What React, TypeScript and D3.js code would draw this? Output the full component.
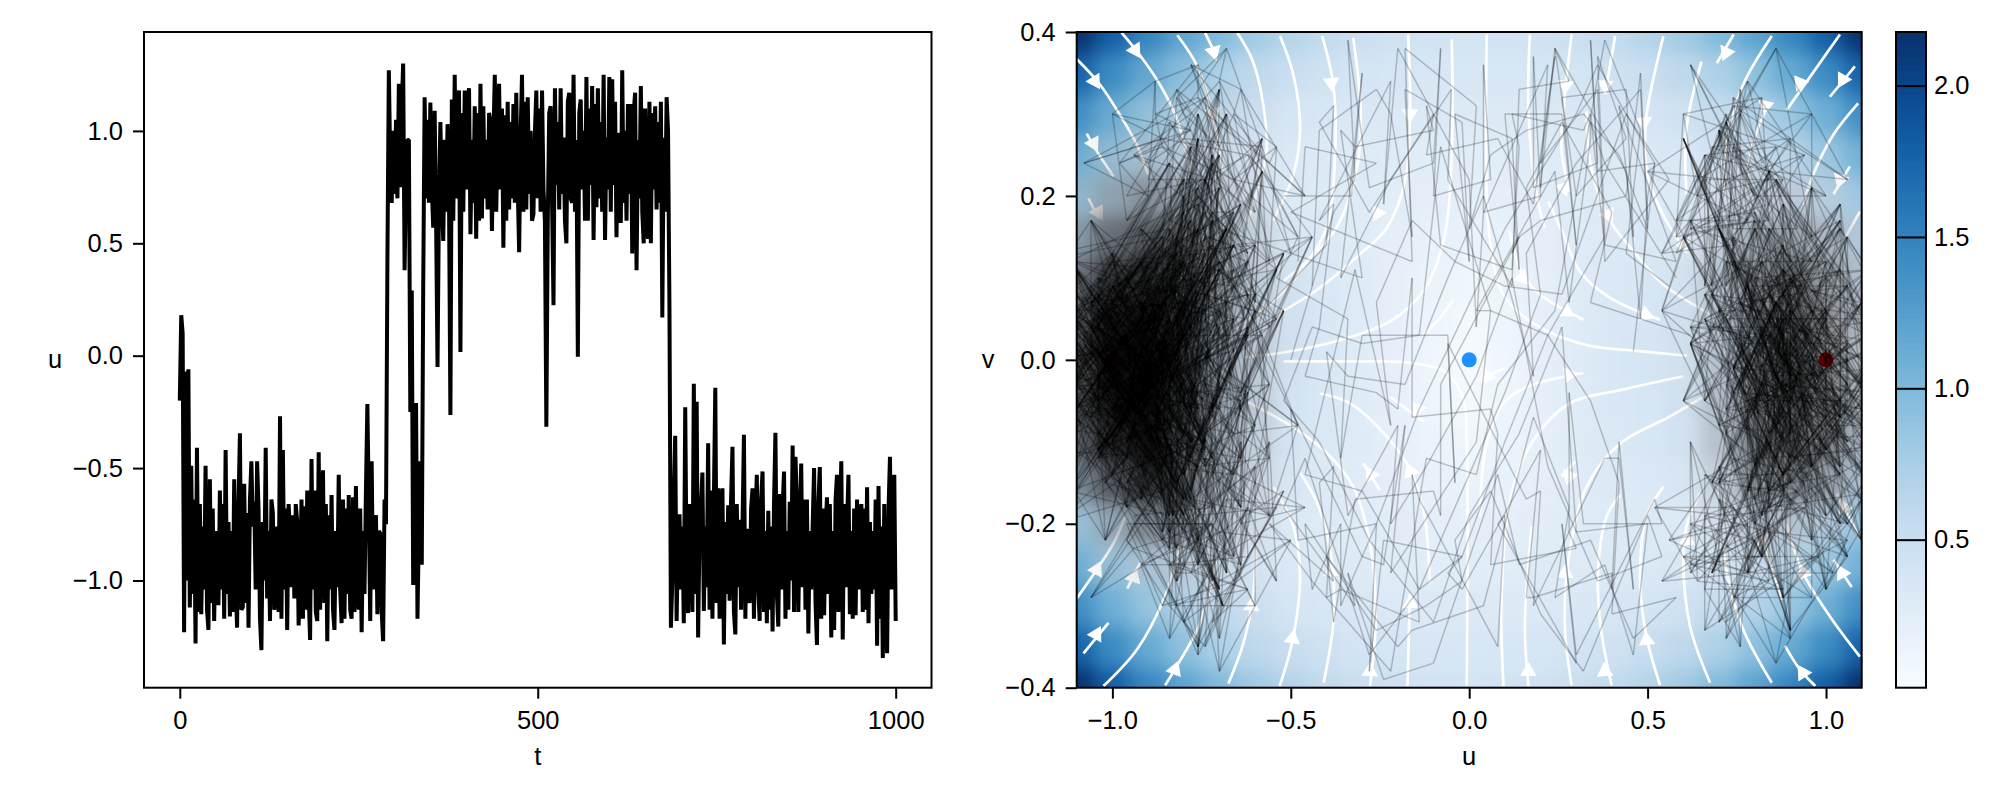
import React, { useRef, useEffect } from 'react';
import * as d3 from 'd3';

// u(t), one value every 2 time steps, one row per 50 steps
const uSeries = [
  -.2,.18,.10,-1.23,-.07,-1.0,-.06,-1.12,-.49,-1.06,-.64,-1.28,-.41,-1.14,-.66,-1.15,-.76,-1.04,-.49,-1.13,-1.22,-.55,-1.1,-.68,-1.18,
  -.78,-1.03,-1.11,-.60,-1.04,-.66,-1.17,-.42,-1.06,-.74,-1.16,-.78,-1.14,-.55,-1.0,-1.21,-.66,-.345,-1.13,-1.12,-.57,-1.1,-.7,-1.21,-.64,
  -.47,-.76,-.65,-1.04,-.47,-.68,-1.17,-1.31,-.74,-1.0,-.41,-1.08,-.78,-1.18,-.64,-.7,-1.13,-1.06,-.76,-1.14,-.27,-1.17,-.42,-1.04,-.68,
  -1.22,-.66,-.78,-1.03,-.71,-1.08,-.66,-.74,-1.2,-1.0,-.64,-1.17,-.67,-1.13,-.6,-1.06,-1.265,-.46,-1.04,-.6,-1.14,-1.18,-.43,-1.13,-.76,
  -.51,-1.1,-.66,-1.27,-.71,-1.04,-.62,-1.13,-1.22,-.78,-1.03,-.53,-1.04,-1.19,-.64,-1.17,-.68,-1.06,-.62,-1.13,-1.17,-.63,-1.14,-.58,-1.04,
  -1.13,-.68,-1.23,-.78,-1.06,-.6,-.215,-.66,-1.18,-.47,-1.04,-.74,-.71,-1.15,-.78,-.79,-1.14,-1.27,-.64,-.75,.42,1.27,.85,.68,1.0,
  .72,1.05,.7,1.21,.75,1.1,1.30,.38,.8,.96,.96,-.25,.29,-1.02,-.7,-.21,-1.17,-.75,-.47,-.93,.3,1.15,.7,1.05,.68,
  1.126,.74,.57,1.09,.6,-.05,.68,1.04,.7,.51,.96,.64,1.03,.72,-.264,1.14,.6,1.25,.7,1.0,1.18,.017,1.08,.64,1.18,
  .74,1.12,1.19,.54,.96,.68,1.11,.52,1.08,.6,1.21,.61,1.11,.7,.96,.65,1.08,1.04,.555,.96,1.25,.64,.99,1.21,.74,
  1.1,.48,1.07,.6,1.13,.65,1.04,.7,1.12,.68,1.17,.76,.46,.97,1.25,.64,1.13,.65,1.15,.72,1.0,.6,.63,.99,1.18,
  .7,1.1,.64,1.18,.74,.6,-.316,.6,1.08,1.11,.68,.225,1.19,.76,1.04,.65,1.19,.72,.97,.6,.5,1.13,1.17,.7,.68,
  1.25,.64,.96,-.005,1.08,1.14,.74,1.0,.6,1.24,.6,1.1,.76,1.2,.515,1.12,.66,1.19,.7,1.04,.64,1.25,.515,.97,.74,
  1.24,.64,1.23,.76,1.13,.527,.96,.99,.59,1.27,.68,1.0,.6,1.12,.72,1.12,.455,1.08,1.17,.38,.96,.7,1.2,.64,.5,
  1.1,.6,.52,1.13,.5,1.08,.74,1.11,.65,1.04,.68,1.13,.17,.97,.64,1.15,1.0,.2,-1.21,-1.0,-.64,-.356,-1.18,-.78,-.706,
  -1.04,-.76,-1.19,-.229,-1.0,-1.145,-.66,-.70,-1.14,-.125,-1.06,-.205,-1.254,-.78,-.665,-.52,-1.136,-.76,-1.03,-.39,-1.13,-.6,-1.17,-.64,-.143,
  -1.1,-.59,-1.17,-.68,-.59,-1.285,-.74,-1.06,-.665,-1.09,-.64,-.405,-1.14,-1.24,-.66,-1.03,-.73,-1.13,-.76,-.352,-1.17,-.77,-1.06,-1.10,-.68,
  -.59,-1.17,-.74,-.53,-1.04,-1.18,-.64,-.515,-1.14,-.78,-1.19,-.69,-1.13,-.76,-1.227,-.66,-.343,-1.06,-1.205,-.615,-1.04,-.68,-.515,-1.17,-.78,
  -1.13,-.65,-1.0,-.40,-1.14,-.45,-.66,-1.14,-.74,-.48,-1.03,-.64,-1.13,-.64,-1.236,-.78,-1.04,-.76,-.50,-1.1,-1.287,-.66,-.495,-1.17,-.68,
  -1.155,-.78,-.63,-1.06,-.66,-1.254,-.78,-1.22,-.64,-.53,-1.14,-.74,-.47,-1.263,-.66,-1.03,-.76,-.53,-1.15,-.78,-1.17,-.68,-1.155,-.64,-1.04,
  -.76,-.66,-1.14,-.68,-1.13,-.585,-1.19,-.74,-1.06,-.78,-1.04,-.64,-1.29,-.58,-1.17,-.76,-1.345,-.66,-1.13,-1.324,-.68,-.45,-1.04,-.78,-.53,
  -1.18,
];

// trajectory in the (u, v) plane: thirteen rows in the left well, then the right well
const planeU = [
  -.92,-.82,-1.0,-.86,-1.06,-.92,-.8,-.88,-.76,-.84,-1.04,-1.17,-1.02,-.87,-.78,-.7,-.8,-.96,-.84,-.74,-.83,-.98,-1.12,-.92,-.82,
  -.72,-.63,-.74,-.66,-.78,-.88,-.8,-.92,-1.1,-.96,-.82,-.73,-.85,-1.02,-1.18,-1.04,-.84,-.76,-.66,-.58,-.68,-.8,-.72,-.84,-1.0,
  -1.16,-1.0,-.86,-.76,-.88,-1.06,-1.2,-1.06,-.92,-.78,-.7,-.6,-.72,-.82,-.96,-.84,-.74,-.64,-.54,-.66,-.76,-.68,-.8,-.92,-1.1,
  -.96,-1.12,-1.0,-.84,-.74,-.86,-.78,-.92,-.82,-.72,-.62,-.74,-.86,-1.04,-.88,-.8,-.7,-.82,-.96,-1.14,-1.02,-.85,-.76,-.88,-.78,
  -.68,-.78,-.7,-.8,-.96,-1.12,-.96,-1.16,-1.0,-.84,-.76,-.66,-.56,-.68,-.6,-.72,-.82,-.74,-.86,-.76,-.7,-.8,-.92,-.82,-1.0,
  -1.17,-1.02,-.87,-.77,-.69,-.79,-.89,-1.08,-.89,-1.08,-1.2,-1.06,-.86,-1.04,-.86,-.74,-.64,-.52,-.62,-.72,-.64,-.76,-.86,-1.04,-1.18,
  -1.04,-.88,-.78,-.68,-.8,-.92,-.82,-.74,-.84,-1.0,-1.16,-1.04,-.86,-1.06,-.88,-.78,-.66,-.56,-.48,-.58,-.7,-.82,-1.0,-.84,-.74,
  -.86,-.76,-.66,-.78,-.88,-1.1,-.92,-1.12,-.96,-.8,-.7,-.82,-.72,-.62,-.74,-.64,-.76,-.88,-1.06,-1.2,-1.06,-.92,-.8,-.7,-.82,
  -1.0,-.84,-1.04,-.86,-.76,-.64,-.74,-.86,-1.06,-.92,-.78,-.88,-.8,-.96,-1.12,-1.0,-.84,-.74,-.84,-1.04,-1.18,-1.04,-.86,-.76,-.66,
  -.78,-.92,-1.1,-.92,-.82,-.72,-.82,-1.0,-.84,-.74,-.64,-.54,-.44,-.56,-.66,-.58,-.7,-.82,-.96,-.84,-1.04,-.86,-.78,-.88,-1.1,
  -.92,-.8,-.96,-.84,-1.0,-1.16,-1.0,-.84,-.74,-.86,-.76,-.88,-.78,-.68,-.8,-.7,-.6,-.7,-.82,-.72,-.84,-.76,-.66,-.78,-.92,
  -1.1,-1.22,-1.1,-.88,-.78,-.92,-.8,-.96,-.82,-.72,-.62,-.52,-.62,-.74,-.64,-.76,-.88,-.78,-.92,-1.12,-.96,-.82,-.7,-.8,-.96,
  -.82,-1.0,-.86,-.76,-.66,-.56,-.68,-.78,-.68,-.6,-.72,-.84,-1.04,-.88,-1.06,-.92,-.8,-.92,-1.12,-1.0,-.84,-1.04,-.86,-1.04,-1.18,
  .72,.82,.96,1.12,1.0,.84,.74,.86,1.04,.88,1.06,.9,.8,.7,.82,.96,1.1,.9,.8,.7,.6,.7,.82,.96,.84,
  1.0,.86,.76,.88,1.06,1.18,1.04,.88,.78,.68,.8,.7,.6,.72,.84,1.0,.86,1.04,.88,.78,.68,.8,.9,1.1,.9,
  .8,.96,1.12,1.0,.84,.74,.86,.76,.88,1.06,.9,.8,.72,.62,.74,.84,1.04,1.18,1.04,.86,.78,.9,1.1,.9,.82,
  .96,1.12,.9,.8,.72,.62,.54,.66,.76,.88,.78,.9,1.1,1.22,1.06,.88,.8,.9,.82,.72,.62,.74,.86,1.04,1.18,
  1.04,.86,1.0,1.16,1.0,.86,.76,.88,.8,.7,.6,.7,.82,.96,1.12,.96,.82,.96,.84,1.0,1.16,1.04,.84,.74,.86,
  1.04,.86,.76,.66,.78,.9,1.1,1.2,1.06,.9,.8,.9,.82,.7,.62,.72,.84,1.0,1.16,1.0,.84,.76,.66,.78,.88,
  1.06,1.2,1.06,.88,.78,.88,.78,.68,.8,.96,.84,1.0,1.16,1.04,.86,.76,.86,1.06,.88,.78,.88,1.06,.9,1.1,.9,
  1.04,
];
const planeV = [
  .0,-.04,.06,.02,-.07,.05,.12,.03,-.06,.08,-.02,-.13,-.03,.09,.17,.06,-.05,.1,-.01,-.11,-.19,-.08,.04,-.04,.07,
  .14,.05,.22,.11,-.02,.08,-.09,-.17,-.06,.03,.13,.01,-.12,-.22,-.11,-.02,.1,.2,.09,.27,.16,.04,-.07,.02,-.1,
  -.2,-.09,-.16,-.04,.06,-.05,.08,.17,.07,-.03,.04,-.08,-.18,-.27,-.15,-.05,.05,-.06,.11,.01,.19,.3,.18,.08,-.02,
  -.12,-.03,-.14,-.23,-.1,.0,.1,.02,.15,.24,.12,.03,-.08,.01,-.09,-.19,-.28,-.16,-.07,.04,-.04,.07,.16,.05,-.06,
  .03,.13,.25,.14,.05,-.04,.08,-.01,-.11,-.21,-.13,-.24,-.12,-.03,.06,-.06,.09,.18,.09,.21,.33,.2,.1,-.01,.07,
  -.05,-.15,-.07,-.18,-.3,-.17,-.08,.02,-.09,.03,.12,.04,.15,.06,-.03,-.13,-.05,.06,-.04,-.14,-.25,-.35,-.22,-.11,-.02,
  .08,-.03,.06,.16,.07,-.05,.04,.13,.24,.12,.02,.09,-.02,.06,-.07,-.17,-.09,-.19,-.08,.03,.12,.03,-.06,.04,.15,
  .05,.27,.14,.03,-.07,.04,-.05,.06,-.04,-.14,-.06,.05,.17,.08,-.03,-.12,-.22,-.1,.01,-.08,.03,.12,.22,.11,.01,
  .09,-.01,-.11,-.03,.08,.19,.09,-.02,.07,.16,.26,.14,.03,-.06,-.16,-.07,-.19,-.1,.02,-.09,.0,.1,.02,-.08,.05,
  -.04,.07,-.03,-.13,-.23,-.12,-.02,.09,-.02,.08,-.04,.05,.15,.04,.14,.23,.11,.01,-.1,-.02,-.12,-.21,-.1,.0,.11,
  .01,-.09,-.18,-.08,.03,.13,.04,.16,.06,-.05,.05,-.07,-.16,-.26,-.14,-.03,.08,-.02,.07,.18,.09,.3,.18,.07,-.03,
  .06,-.04,.08,-.02,-.12,-.04,.07,-.05,-.15,-.06,.04,.13,.03,-.08,-.18,-.09,.02,-.1,.0,.12,.02,.11,.21,.1,-.01,
  -.11,-.02,-.13,-.25,-.14,-.03,.07,-.04,.05,.14,.25,.13,.04,-.06,.04,-.07,-.17,-.07,.03,.13,.05,-.05,-.14,-.05,.06,
  -.03,-.12,-.22,-.11,-.02,.08,-.01,.1,.19,.08,-.03,.05,-.06,-.15,-.24,-.13,-.03,.06,.16,.06,-.05,.04,.12,.02,-.09,
  -.19,-.08,.02,.11,.02,-.09,-.2,-.1,-.01,.08,.17,.28,.15,.05,-.05,.05,-.04,-.14,-.06,-.16,-.26,-.13,-.03,.07,-.02,
  .1,.21,.11,.0,.09,-.01,-.12,-.03,-.14,-.24,-.33,-.2,-.09,.02,.12,.03,-.07,.05,.16,.07,-.04,-.15,-.06,.06,-.03,
  -.13,-.04,.08,.18,.29,.17,.06,-.05,.03,.14,.03,-.08,-.17,-.08,-.2,-.29,-.17,-.07,.03,-.06,.04,.15,.04,-.07,.02,
  .11,.22,.1,-.01,-.11,-.02,.07,-.04,.06,.16,.27,.16,.05,-.06,-.15,-.05,.04,-.07,-.18,-.28,-.16,-.05,.05,-.04,.07,
  .17,.07,-.03,.08,-.02,-.12,-.22,-.1,.0,.1,.01,-.09,-.19,-.08,.02,.12,.23,.12,.02,-.07,-.16,-.06,.05,-.05,-.14,
  -.05,.05,.15,.05,-.06,-.16,-.26,-.15,-.05,.06,.16,.06,-.04,-.13,-.03,.07,-.02,.09,.19,.09,.0,-.1,.02,-.08,.03,
  -.06,
];

// outer fringes of the two clouds
const fringeLeftTopU = [-.9,-.8,-.72,-.82,-.7,-.6,-.68,-.78,-.66,-.56,-.64,-.54,-.46,-.56,-.66,-.76,-.86,-.76,-.88,-.98,-.88,-.78,-.9,-1.0,-1.08,-.96,-.86,-.74,-.62,-.7,-.58,-.5,-.6,-.48,-.58,-.7,-.8,-.68,-.78,-.9,-.82,-.94,-.84,-.72,-.62,-.72,-.84,-.74,-.86,-.96];
const fringeLeftTopV = [.22,.3,.22,.33,.26,.18,.28,.36,.3,.24,.33,.26,.2,.12,.22,.32,.26,.36,.3,.24,.34,.28,.2,.3,.24,.17,.27,.32,.25,.16,.23,.13,.07,.15,.26,.34,.27,.38,.3,.24,.32,.25,.17,.22,.13,.2,.29,.22,.13,.2];
const fringeLeftBottomU = [-.96,-.84,-.74,-.86,-.76,-.66,-.76,-.64,-.54,-.64,-.52,-.62,-.72,-.84,-.74,-.62,-.72,-.84,-.94,-.84,-.96,-1.06,-.94,-.84,-.72,-.82,-.7,-.6,-.5,-.6,-.7,-.8,-.92,-.82,-.72,-.84,-.72,-.62,-.74,-.64,-.54,-.46,-.56,-.68,-.78,-.7,-.82,-.72,-.84,-.94];
const fringeLeftBottomV = [-.2,-.28,-.2,-.3,-.36,-.27,-.19,-.26,-.18,-.1,-.16,-.24,-.32,-.25,-.35,-.28,-.2,-.3,-.23,-.15,-.22,-.29,-.2,-.13,-.2,-.3,-.38,-.3,-.22,-.13,-.21,-.32,-.25,-.17,-.25,-.34,-.27,-.18,-.12,-.2,-.27,-.18,-.1,-.17,-.26,-.34,-.26,-.18,-.11,-.19];
const fringeRightTopU = [.92,.82,.74,.86,.76,.66,.76,.66,.58,.68,.78,.9,1.0,.9,.8,.7,.62,.72,.84,.74,.64,.54,.64,.74,.86,.96,1.06,.96,.84,.74,.66,.78,.68,.58,.5,.6,.72,.82,.94,.84,.72,.62,.74,.84,.96,.88,.76,.66,.58,.7];
const fringeRightTopV = [.16,.24,.16,.26,.33,.25,.17,.09,.17,.26,.34,.27,.2,.12,.2,.28,.36,.3,.22,.14,.2,.13,.22,.31,.38,.3,.22,.15,.23,.32,.25,.17,.09,.15,.23,.3,.22,.32,.25,.17,.09,.16,.26,.19,.12,.22,.3,.22,.13,.06];
const fringeRightBottomU = [.9,.8,.7,.82,.72,.62,.72,.84,.94,.84,.72,.62,.52,.62,.74,.64,.76,.88,.78,.66,.56,.66,.78,.9,1.02,.9,.8,.7,.6,.7,.82,.92,.8,.7,.62,.74,.86,.96,1.06,.96,.84,.74,.66,.54,.66,.78,.88,.98,.88,.78];
const fringeRightBottomV = [-.14,-.22,-.14,-.24,-.32,-.25,-.34,-.27,-.18,-.1,-.19,-.26,-.18,-.1,-.18,-.27,-.35,-.28,-.2,-.28,-.22,-.14,-.08,-.17,-.26,-.34,-.26,-.17,-.24,-.32,-.24,-.16,-.22,-.13,-.2,-.29,-.37,-.29,-.22,-.14,-.21,-.12,-.19,-.27,-.33,-.26,-.17,-.24,-.16,-.24];

// the sparse wandering part of the trajectory between the two wells
const transitU = [-.6,-.48,-.52,-.4,-.46,-.33,-.38,-.26,-.3,-.42,-.5,-.36,-.28,-.16,-.22,-.1,-.18,-.05,-.12,.02,-.06,.08,.0,.12,.18,.06,.14,.24,.16,.28,.2,.32,.24,.36,.42,.3,.38,.5,.44,.56,.48,.36,.44,.3,.38,.26,.16,.22,.1,.18,.06,-.04,.04,-.08,-.16,-.06,-.14,-.26,-.18,-.3,-.22,-.34,-.44,-.32,-.4,-.52,-.46,-.34,-.42,-.3,-.2,-.28,-.14,-.22,-.1,-.02,-.12,.0,.1,.02,.14,.22,.12,.26,.34,.22,.3,.42,.36,.5,.4,.54,.46,.58,.5,.38,.46,.32,.24,.34,.2,.28,.14,.06,.18,.08,-.04,.04,-.1,-.02,-.16,-.24,-.12,-.2,-.34,-.26,-.4,-.32,-.46,-.38,-.52,-.44,-.56,-.46,-.36,-.44,-.28,-.36,-.22,-.14,-.26,-.12,-.04,-.14,.02,.1,-.02,.08,.2,.1,.24,.16,.3,.38,.26,.36,.48,.4,.52,.44,.34,.46,.56,.62];
const transitV = [.05,.12,.2,.14,.26,.2,.31,.24,.35,.29,.18,.1,.18,.12,.22,.3,.38,.33,.25,.31,.22,.27,.16,.09,.19,.25,.33,.37,.28,.34,.24,.3,.38,.33,.25,.2,.12,.16,.27,.22,.33,.37,.3,.24,.15,.08,.13,.03,.09,-.02,.06,.12,.2,.26,.17,.1,.03,.07,-.03,.02,-.08,-.02,.04,.11,.01,-.05,-.14,-.19,-.1,-.16,-.08,-.22,-.28,-.2,-.32,-.24,-.13,-.19,-.1,-.02,-.09,.03,.1,.04,-.05,-.13,-.21,-.15,-.27,-.2,-.31,-.24,-.36,-.29,-.19,-.25,-.34,-.38,-.29,-.22,-.31,-.18,-.25,-.16,-.07,-.14,-.22,-.3,-.37,-.27,-.33,-.39,-.3,-.35,-.26,-.33,-.24,-.3,-.2,-.27,-.18,-.28,-.2,-.12,-.2,-.27,-.36,-.3,-.38,-.28,-.2,-.12,-.18,-.06,-.14,-.04,.05,-.03,.08,.16,.06,.21,.3,.39,.29,.36,.28,.18,.24,.13,.07,.01,.09,.03];
const transit2U = [-.5,-.44,-.38,-.42,-.32,-.26,-.34,-.22,-.28,-.16,-.1,-.18,-.08,-.02,-.1,.0,.06,-.04,.04,.12,.04,.14,.2,.1,.18,.26,.18,.3,.36,.26,.34,.44,.36,.46,.52,.42,.5,.58,.48,.38,.44,.34,.24,.32,.2,.12,.22,.14,.04,.12,.02,-.08,.0,-.12,-.2,-.1,-.24,-.32,-.22,-.36,-.42,-.3,-.38,-.5,-.42,-.54,-.46,-.34,-.26,-.36,-.2,-.3,-.16,-.06,-.16,-.04,.06,-.06,.08,.16,.06,.2,.3,.18,.28,.38,.28,.42,.32,.46,.54,.42,.52,.4,.3,.4,.26,.18,.3,.16,.08,.2,.1,-.02,.08,-.06,-.14,-.02,-.16,-.24,-.14,-.28,-.36,-.26,-.4,-.48,-.38,-.5,-.42,-.3,-.38,-.24,-.32,-.18,-.1,-.22,-.08,.02,-.08,.06,.14,.02,.12,.24,.14,.28,.2,.34,.44,.34,.48,.38,.5,.58];
const transit2V = [.0,.09,.18,.28,.22,.33,.39,.3,.21,.15,.24,.33,.38,.29,.2,.12,.22,.3,.36,.27,.18,.11,.2,.3,.37,.3,.21,.14,.24,.32,.39,.33,.23,.15,.24,.31,.2,.12,.05,.14,.23,.3,.38,.28,.21,.3,.36,.26,.18,.11,.04,.14,.22,.31,.38,.28,.19,.26,.34,.28,.17,.1,.19,.13,.04,.1,-.02,.05,-.04,-.12,-.06,.03,.1,.03,-.07,-.15,-.06,.02,-.09,-.17,-.25,-.16,-.23,-.3,-.21,-.12,-.04,-.12,-.2,-.28,-.2,-.1,-.17,-.28,-.36,-.26,-.2,-.29,-.37,-.29,-.2,-.11,-.19,-.28,-.35,-.26,-.17,-.24,-.14,-.22,-.32,-.38,-.28,-.2,-.29,-.22,-.13,-.06,-.15,-.24,-.32,-.25,-.17,-.08,-.16,-.26,-.19,-.1,-.03,.06,.15,.06,.13,.23,.15,.07,.17,.27,.2,.29,.35,.24,.17,.1];

// drift speed read at |u| = 0, .1 ... 1.1 (columns) and |v| = 0, .05 ... .4 (entries)
const speedColumns = [
  [0,.05,.1,.15,.2,.25,.3,.35,.4],
  [.10,.11,.135,.17,.21,.255,.30,.355,.41],
  [.19,.19,.20,.21,.24,.27,.31,.37,.435],
  [.27,.27,.27,.26,.27,.285,.33,.39,.48],
  [.34,.33,.32,.30,.29,.30,.35,.43,.555],
  [.375,.37,.35,.32,.305,.32,.38,.50,.655],
  [.38,.375,.35,.32,.31,.34,.44,.59,.79],
  [.36,.35,.32,.30,.31,.38,.52,.71,.97],
  [.29,.28,.265,.27,.33,.46,.655,.90,1.19],
  [.17,.17,.20,.27,.41,.60,.84,1.13,1.46],
  [0,.10,.22,.375,.57,.80,1.08,1.41,1.79],
  [.23,.28,.41,.58,.80,1.07,1.39,1.76,2.18],
];
const heatU = [-1.1,-1,-.9,-.8,-.7,-.6,-.5,-.4,-.3,-.2,-.1,0,.1,.2,.3,.4,.5,.6,.7,.8,.9,1,1.1];
const heatV = [-.4,-.35,-.3,-.25,-.2,-.15,-.1,-.05,0,.05,.1,.15,.2,.25,.3,.35,.4];

// how dark the overlapping trajectory gets in the two wells
const cloudU = [-1.1,-1,-.9,-.8,-.7,-.6,-.5,-.4,.5,.6,.7,.8,.9,1,1.1];
const cloudV = [.35,.3,.25,.2,.15,.1,.05,0,-.05,-.1,-.15,-.2,-.25,-.3,-.35];
const cloudDarkness = [
  [0,0,.01,.01,0,0,0,0,0,0,0,0,0,0,0],
  [0,.02,.03,.04,.03,.01,0,0,0,0,0,0,0,0,0],
  [.02,.07,.12,.1,.05,.02,0,0,0,0,.01,.02,.01,.01,0],
  [.1,.26,.36,.26,.14,.05,0,0,0,0,.04,.1,.1,.05,.01],
  [.3,.52,.62,.44,.26,.1,.01,0,0,.01,.1,.25,.3,.2,.08],
  [.5,.76,.82,.56,.3,.12,.02,0,0,.02,.16,.38,.52,.35,.16],
  [.6,.85,.88,.58,.3,.12,.02,0,0,.02,.16,.38,.55,.42,.22],
  [.66,.9,.88,.58,.3,.12,.02,0,0,.02,.16,.42,.6,.44,.22],
  [.66,.9,.88,.6,.3,.12,.01,0,0,.02,.18,.45,.62,.46,.26],
  [.6,.82,.88,.58,.27,.1,.01,0,0,.02,.17,.45,.58,.44,.22],
  [.38,.62,.78,.52,.25,.09,.01,0,0,.01,.1,.33,.42,.3,.12],
  [.06,.24,.42,.32,.17,.05,0,0,0,0,.04,.14,.14,.08,.02],
  [.01,.05,.1,.1,.06,.02,0,0,0,0,.01,.02,.02,.01,0],
  [0,0,.01,.02,.02,.01,0,0,0,0,0,0,0,0,0],
  [0,0,0,0,0,0,0,0,0,0,0,0,0,0,0],
];

const streamlines: [number, number][][] = [
  [[-1.1,.367],[-1.035,.336],[-.979,.299],[-.932,.263],[-.9,.226]],
  [[-.974,.399],[-.927,.374],[-.867,.336],[-.82,.295],[-.783,.234]],
  [[-.818,.396],[-.764,.36],[-.726,.311],[-.693,.23]],
  [[-.74,.399],[-.708,.37]],
  [[-.65,.399],[-.608,.366],[-.577,.311],[-.568,.254],[-.595,.205],[-.622,.169]],
  [[-.53,.395],[-.493,.348],[-.474,.283],[-.493,.226],[-.55,.17]],
  [[-.412,.395],[-.381,.336],[-.376,.25],[-.4,.161],[-.465,.113],[-.558,.068],[-.689,.03]],
  [[-.325,.393],[-.304,.303],[-.315,.233],[-.371,.162],[-.446,.124],[-.521,.096]],
  [[-.171,.397],[-.166,.295],[-.18,.218],[-.231,.161],[-.306,.129],[-.418,.088],[-.54,.055]],
  [[-.049,.391],[-.049,.25],[-.072,.145],[-.128,.084],[-.222,.047],[-.371,.023],[-.521,.009],[-.633,.003]],
  [[-.045,.073],[-.082,.051],[-.128,.031]],
  [[-1.072,.276],[-1.044,.255],[-.997,.224]],
  [[-1.067,.197],[-1.039,.173]],
  [[.049,.397],[.049,.2015],[.06,.14],[.096,.079],[.189,.042],[.329,.018],[.469,.011],[.61,.005]],
  [[.17,.397],[.166,.303],[.189,.201],[.212,.161]],
  [[.113,.157],[.142,.112],[.189,.083],[.32,.049]],
  [[.287,.397],[.268,.322],[.259,.254],[.283,.205]],
  [[.329,.303],[.339,.242],[.385,.177],[.469,.128],[.544,.092],[.675,.056]],
  [[.222,.193],[.264,.153],[.31,.108],[.394,.076],[.535,.049]],
  [[.409,.395],[.381,.324]],
  [[.544,.395],[.507,.324],[.493,.283],[.502,.222],[.553,.169],[.61,.132]],
  [[.741,.397],[.694,.362]],
  [[.651,.364],[.609,.283],[.609,.201]],
  [[.848,.395],[.768,.336],[.722,.27],[.712,.201]],
  [[1.039,.397],[.89,.305]],
  [[1.081,.358],[1.011,.321]],
  [[1.09,.313],[1.021,.275],[.964,.226],[.936,.189]],
  [[1.067,.236],[1.021,.202]],
  [[.838,.311],[.796,.266],[.777,.213]],
  [[1.095,.181],[1.049,.145]],
  [[-1.1,-.291],[-1.044,-.256],[-.997,-.224],[-.964,-.191]],
  [[-1.081,-.358],[-1.011,-.321]],
  [[-1.025,-.398],[-.932,-.354],[-.857,-.293],[-.81,-.228]],
  [[-.958,-.279],[-.923,-.248]],
  [[-.852,-.397],[-.82,-.374],[-.754,-.321],[-.708,-.24]],
  [[-.675,-.395],[-.633,-.346],[-.605,-.285],[-.6,-.22]],
  [[-.531,-.398],[-.493,-.338],[-.474,-.264],[-.493,-.203],[-.549,-.155]],
  [[-.408,-.394],[-.38,-.317],[-.385,-.244],[-.422,-.179],[-.473,-.138]],
  [[-.278,-.398],[-.262,-.317],[-.278,-.224],[-.325,-.155],[-.389,-.118],[-.483,-.085],[-.65,-.045]],
  [[-.173,-.398],[-.166,-.285]],
  [[-.11,-.272],[-.128,-.183],[-.166,-.134],[-.222,-.098],[-.334,-.053],[-.418,-.041]],
  [[-.25,-.159],[-.297,-.126]],
  [[-.007,-.397],[-.007,-.102],[-.016,-.049],[-.064,-.016],[-.157,-.004],[-.325,-.002],[-.521,-.002]],
  [[-.128,-.075],[-.222,-.045]],
  [[.096,-.398],[.091,-.285],[.119,-.163],[.18,-.098],[.282,-.053],[.423,-.037],[.6,-.02]],
  [[.03,-.191],[.049,-.102],[.096,-.053],[.161,-.033],[.32,-.016]],
  [[.166,-.398],[.156,-.325],[.175,-.203]],
  [[.1,-.01],[.058,-.018]],
  [[.287,-.397],[.268,-.325],[.278,-.244],[.329,-.155],[.423,-.102],[.563,-.069],[.656,-.045]],
  [[.297,-.124],[.259,-.142]],
  [[.399,-.397],[.367,-.321],[.362,-.252],[.385,-.191],[.423,-.165]],
  [[.535,-.397],[.497,-.338],[.479,-.268],[.497,-.191],[.544,-.155]],
  [[.675,-.394],[.619,-.325],[.6,-.244],[.609,-.203],[.647,-.163]],
  [[.848,-.394],[.768,-.329],[.722,-.26],[.712,-.22]],
  [[.97,-.398],[.927,-.378],[.885,-.349]],
  [[1.095,-.362],[1.011,-.313],[.936,-.26],[.889,-.2]],
  [[1.072,-.277],[1.021,-.244]],
  [[.876,-.293],[.825,-.22]],
  [[1.09,-.214],[1.03,-.163]],
];

// arrow position, then a point further along the flow
const arrowHeads = [
  [-1.049,.34,-1.02,.32],[-.936,.378,-.91,.36],[-.717,.301,-.705,.27],[-.716,.376,-.7,.35],[-.386,.338,-.38,.31],
  [-.166,.3,-.166,.27],[-.257,.179,-.28,.16],[-1.053,.264,-1.03,.245],[-1.04,.18,-1.02,.165],
  [.27,.335,.265,.31],[.266,.21,.28,.19],[.381,.335,.378,.31],[.49,.29,.493,.27],[.72,.375,.7,.355],[.927,.338,.905,.315],
  [1.047,.342,1.025,.325],[.83,.31,.815,.28],[1.04,.22,1.025,.2],[.39,.177,.41,.16],[.495,.055,.525,.05],[.273,.059,.3,.052],
  [.148,.1,.17,.09],[.6,.14,.615,.125],
  [-1.044,-.256,-1.02,-.235],[-1.045,-.335,-1.02,-.315],[-.94,-.265,-.925,-.245],[-.825,-.378,-.805,-.355],[-.61,-.3,-.605,-.27],
  [-.495,-.34,-.485,-.31],[-.385,-.258,-.385,-.23],[-.278,-.38,-.275,-.35],[-.275,-.14,-.3,-.12],[-.165,-.297,-.165,-.27],
  [-.165,-.136,-.185,-.115],[-.145,-.06,-.165,-.05],
  [.166,-.38,.166,-.35],[.27,-.26,.272,-.235],[.38,-.38,.375,-.35],[.497,-.342,.49,-.315],[.61,-.22,.608,-.195],[.28,-.142,.255,-.13],
  [.937,-.26,.915,-.235],[.935,-.382,.91,-.365],[1.045,-.26,1.02,-.24],[1.05,-.18,1.03,-.16],[.82,-.22,.81,-.2],
  [.28,-.018,.32,-.015],[.05,-.02,.03,-.03],
];

const saddle: [number, number] = [0, 0];
const wells: [number, number][] = [[-1, 0], [1, 0]];

const tTicks = [0, 500, 1000];
const uTicks = [-1, -.5, 0, .5, 1];
const planeUTicks = [-1, -.5, 0, .5, 1];
const planeVTicks = [-.4, -.2, 0, .2, .4];
const barTicks = [.5, 1, 1.5, 2];

const FONT = '"Liberation Sans", Arial, sans-serif';
const FONT_SIZE = 25.5;

const joined = (us: number[], vs: number[], lags: number[]) => {
  const pts = d3.zip(us, vs);
  return lags.flatMap((lag) =>
    pts.slice(lag).map((p, i) => [pts[i], p]).filter((s) => Math.abs(s[0][0] - s[1][0]) < .5)
  );
};

const App: React.FC = () => {
  const ref = useRef<SVGSVGElement | null>(null);
  useEffect(() => {
    if (!ref.current) return;
    const svg = d3.select(ref.current);
    svg.selectAll('*').remove();

    const tScale = d3.scaleLinear().domain([-50, 1050]).range([144, 931.5]);
    const uScale = d3.scaleLinear().domain([-1.477, 1.44]).range([687.7, 32]);
    const px = d3.scaleLinear().domain([-1.1, 1.1]).range([1076.7, 1861.7]);
    const py = d3.scaleLinear().domain([-.4, .4]).range([687.7, 32]);
    const barY = d3.scaleLinear().domain([.011, 2.177]).range([687.7, 32]);
    const color = d3.scaleSequential(d3.interpolateBlues).domain([.011, 2.177]);

    const defs = svg.append('defs');
    defs.append('clipPath').attr('id', 'plane-clip').append('rect')
      .attr('x', px(-1.1)).attr('y', py(.4))
      .attr('width', px(1.1) - px(-1.1)).attr('height', py(-.4) - py(.4));
    const addBlur = (id: string, sd: number) =>
      defs.append('filter').attr('id', id)
        .attr('filterUnits', 'userSpaceOnUse')
        .attr('x', 950).attr('y', -100).attr('width', 1050).attr('height', 1000)
        .attr('color-interpolation-filters', 'sRGB')
        .append('feGaussianBlur').attr('stdDeviation', sd);
    addBlur('heat-blur', 10);
    addBlur('cloud-blur', 9);

    // left panel
    const line = d3.line<number>()
      .x((_, i) => tScale((i * 1000) / (uSeries.length - 1)))
      .y((d) => uScale(d));
    svg.append('path')
      .attr('d', line(uSeries) as string)
      .attr('fill', 'none')
      .attr('stroke', '#000')
      .attr('stroke-width', 4)
      .attr('stroke-linejoin', 'bevel');

    // right panel
    const plane = svg.append('g').attr('clip-path', 'url(#plane-clip)');

    const heat = plane.append('g').attr('filter', 'url(#heat-blur)');
    const halfU = .05;
    const halfV = .025;
    heatU.forEach((u) => {
      heatV.forEach((v) => {
        const speed = speedColumns[Math.round(Math.abs(u) * 10)][Math.round(Math.abs(v) * 20)];
        const u0 = u === -1.1 ? -1.3 : u - halfU;
        const u1 = u === 1.1 ? 1.3 : u + halfU;
        const v0 = v === -.4 ? -.5 : v - halfV;
        const v1 = v === .4 ? .5 : v + halfV;
        heat.append('rect')
          .attr('x', px(u0)).attr('y', py(v1))
          .attr('width', px(u1) - px(u0) + .5).attr('height', py(v0) - py(v1) + .5)
          .attr('fill', color(speed));
      });
    });

    const streamPath = d3.line<[number, number]>()
      .x((d) => px(d[0]))
      .y((d) => py(d[1]))
      .curve(d3.curveCatmullRom);
    plane.append('g').selectAll('path').data(streamlines).enter().append('path')
      .attr('d', (d) => streamPath(d) as string)
      .attr('fill', 'none')
      .attr('stroke', '#fff')
      .attr('stroke-width', 2.7);

    const triangle = d3.symbol().type(d3.symbolTriangle).size(120);
    plane.append('g').selectAll('path').data(arrowHeads).enter().append('path')
      .attr('d', triangle() as string)
      .attr('fill', '#fff')
      .attr('transform', (d) => {
        const angle = (Math.atan2(px(d[2]) - px(d[0]), py(d[1]) - py(d[3])) * 180) / Math.PI;
        return `translate(${px(d[0])},${py(d[1])}) rotate(${angle})`;
      });

    plane.append('g').selectAll('circle').data(wells).enter().append('circle')
      .attr('cx', (d) => px(d[0])).attr('cy', (d) => py(d[1])).attr('r', 7.5)
      .attr('fill', 'red');
    plane.append('circle')
      .attr('cx', px(saddle[0])).attr('cy', py(saddle[1])).attr('r', 7.5)
      .attr('fill', '#1e90ff');

    const cloud = plane.append('g').attr('filter', 'url(#cloud-blur)');
    cloudV.forEach((v, r) => {
      cloudU.forEach((u, c) => {
        const u0 = u === -1.1 ? -1.3 : u - halfU;
        const u1 = u === 1.1 ? 1.3 : u + halfU;
        cloud.append('rect')
          .attr('x', px(u0)).attr('y', py(v + halfV))
          .attr('width', px(u1) - px(u0)).attr('height', py(v - halfV) - py(v + halfV))
          .attr('fill', '#000')
          .attr('fill-opacity', cloudDarkness[r][c]);
      });
    });

    const segments = [
      ...joined(planeU, planeV, [1, 2, 3, 5]),
      ...joined(fringeLeftTopU, fringeLeftTopV, [2, 3]),
      ...joined(fringeLeftBottomU, fringeLeftBottomV, [2, 3]),
      ...joined(fringeRightTopU, fringeRightTopV, [2, 3]),
      ...joined(fringeRightBottomU, fringeRightBottomV, [2, 3]),
      ...joined(transitU, transitV, [3]),
      ...joined(transit2U, transit2V, [2]),
    ];
    plane.append('g').selectAll('line').data(segments).enter().append('line')
      .attr('x1', (d) => px(d[0][0])).attr('y1', (d) => py(d[0][1]))
      .attr('x2', (d) => px(d[1][0])).attr('y2', (d) => py(d[1][1]))
      .attr('stroke', '#000')
      .attr('stroke-opacity', .22)
      .attr('stroke-width', 1.5);

    // colorbar
    const barSteps = d3.range(.011, 2.155, .02);
    svg.append('rect')
      .attr('x', 1896).attr('y', 32).attr('width', 30).attr('height', 30)
      .attr('fill', color(2.177));
    svg.append('g').selectAll('rect').data(barSteps).enter().append('rect')
      .attr('x', 1896).attr('width', 30)
      .attr('y', (d) => barY(d + .02) - .5)
      .attr('height', (d) => barY(d) - barY(d + .02) + 1)
      .attr('fill', (d) => color(d));

    // frames
    const frame = (x0: number, x1: number) =>
      svg.append('rect')
        .attr('x', x0).attr('y', 32).attr('width', x1 - x0).attr('height', 655.7)
        .attr('fill', 'none').attr('stroke', '#000').attr('stroke-width', 2);
    frame(144, 931.5);
    frame(1076.7, 1861.7);
    frame(1896, 1926);

    // axes
    const styleAxis = (g: d3.Selection<SVGGElement, unknown, null, undefined>) => {
      g.select('.domain').remove();
      g.selectAll('line').attr('stroke', '#000').attr('stroke-width', 2);
      g.selectAll('text').attr('fill', '#000');
      g.attr('font-family', FONT).attr('font-size', FONT_SIZE);
    };
    const tick1 = d3.format('.1f');
    svg.append('g').attr('transform', 'translate(0,687.7)')
      .call(d3.axisBottom(tScale).tickValues(tTicks).tickFormat(d3.format('d') as any).tickSize(11).tickPadding(12))
      .call(styleAxis);
    svg.append('g').attr('transform', 'translate(144,0)')
      .call(d3.axisLeft(uScale).tickValues(uTicks).tickFormat(tick1 as any).tickSize(11).tickPadding(10))
      .call(styleAxis);
    svg.append('g').attr('transform', 'translate(0,687.7)')
      .call(d3.axisBottom(px).tickValues(planeUTicks).tickFormat(tick1 as any).tickSize(11).tickPadding(12))
      .call(styleAxis);
    svg.append('g').attr('transform', 'translate(1076.7,0)')
      .call(d3.axisLeft(py).tickValues(planeVTicks).tickFormat(tick1 as any).tickSize(11).tickPadding(10))
      .call(styleAxis);
    svg.append('g').attr('transform', 'translate(1926,0)')
      .call(d3.axisRight(barY).tickValues(barTicks).tickFormat(tick1 as any).tickSizeOuter(0).tickSizeInner(-30).tickPadding(8))
      .call(styleAxis);

    // axis labels
    const label = (x: number, y: number, s: string) =>
      svg.append('text')
        .attr('x', x).attr('y', y)
        .attr('text-anchor', 'middle')
        .attr('font-family', FONT).attr('font-size', FONT_SIZE)
        .text(s);
    label(537.7, 765, 't');
    label(1469.2, 765, 'u');
    label(55, 368, 'u');
    label(988, 368, 'v');
  }, []);
  return (
    <svg
      ref={ref}
      width={2000}
      height={800}
      style={{ position: 'absolute', left: 0, top: 0, background: '#fff' }}
    />
  );
};

export default App;
